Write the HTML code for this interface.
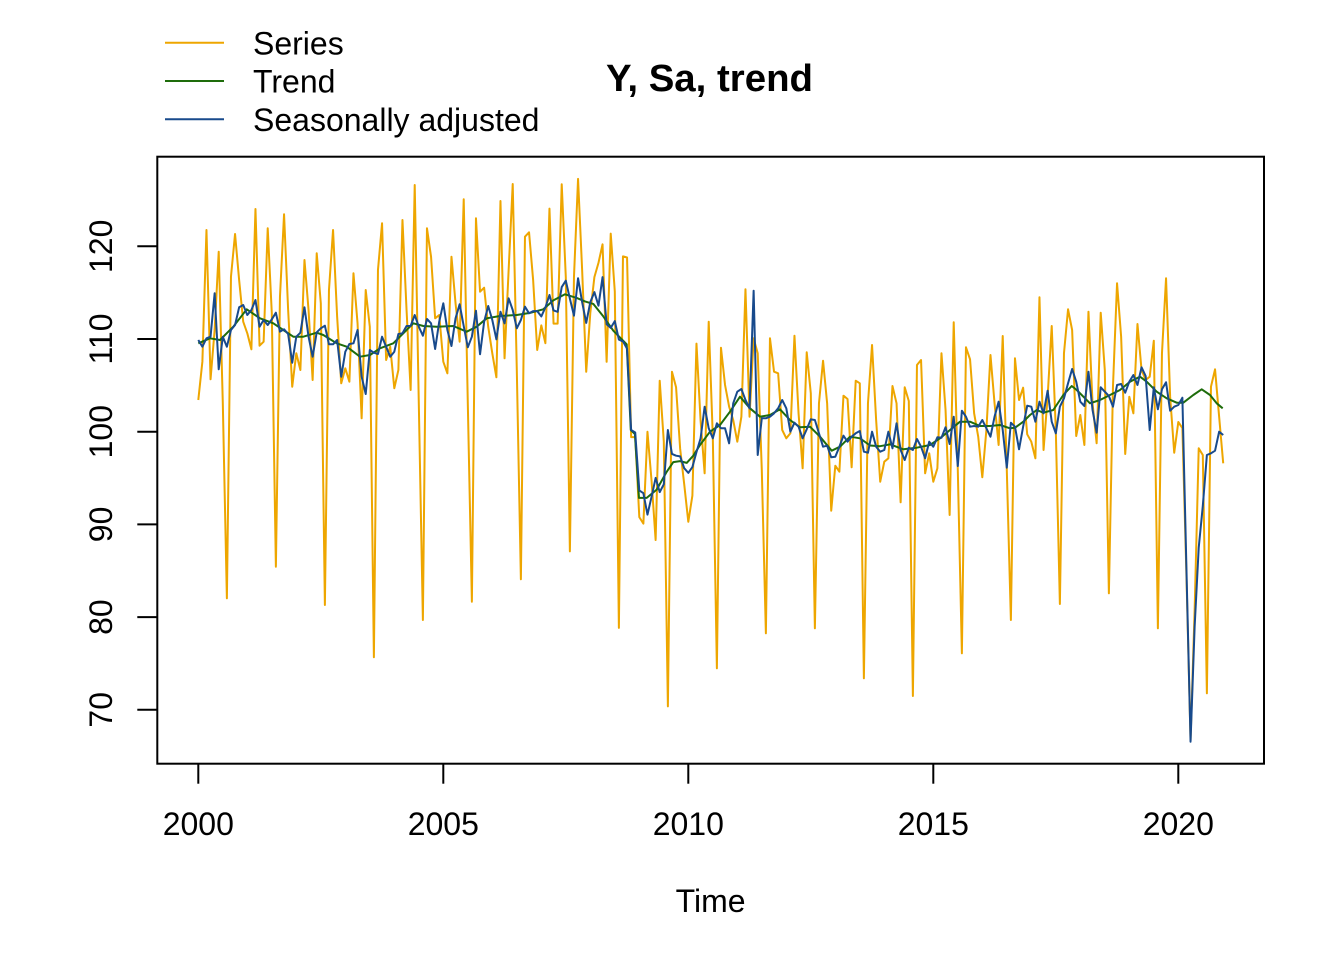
<!DOCTYPE html>
<html>
<head>
<meta charset="utf-8">
<style>
  html, body { margin: 0; padding: 0; background: #ffffff; }
  svg { display: block; }
  text { font-family: "Liberation Sans", Arial, sans-serif; fill: #000; }
</style>
</head>
<body>
<svg width="1344" height="960" viewBox="0 0 1344 960" xmlns="http://www.w3.org/2000/svg">
  <rect x="0" y="0" width="1344" height="960" fill="#ffffff"/>

  <!-- Series (orange) -->
  <g transform="translate(198.3,0) scale(4.08333,1)">
    <polyline fill="none" stroke="#EEA600" stroke-width="2" stroke-linejoin="round" vector-effect="non-scaling-stroke" points="
0,400 1,361.7 2,230 3,379.3 4,330 5,251.7 6,403 7,598.3 8,276.7 9,234 10,280 11,321.7
12,333.3 13,349.3 14,209 15,345.7 16,341.7 17,228.3 18,313.3 19,566.7 20,296.7 21,214.3 22,310 23,386.7
24,353.3 25,370 26,260 27,310 28,380 29,253.3 30,303.3 31,605 32,290 33,230 34,316.7 35,383.3
36,368.3 37,381.7 38,273.3 39,323.3 40,418.3 41,290 42,326.7 43,657.3 44,270 45,223.3 46,360 47,346.7
48,388.3 49,370 50,220 51,310 52,390 53,185 54,403.3 55,620 56,228.3 57,256.7 58,318.3 59,315
60,361.7 61,373.3 62,256.7 63,303.3 64,341.7 65,199.3 66,403.3 67,601.7 68,218.3 69,291.7 70,287.7 71,326.7
72,353.3 73,377.3 74,201 75,358.3 76,270 77,184 78,370 79,579.3 80,236.7 81,232.3 82,280 83,350
84,325.4 85,343.2 86,208.6 87,323.6 88,323.6 89,184.3 90,277.1 91,551.4 92,277.1 93,178.9 94,270 95,371.8
96,312.9 97,277.1 98,262.9 99,244.3 100,361.8 101,233.6 102,291.4 103,627.9 104,256.4 105,257.5 106,437.1 107,437.1
108,517.1 109,523.6 110,431.8 111,480.7 112,540 113,380.7 114,441.4 115,706.4 116,371.8 117,387.1 118,448.6 119,484.3
120,521.8 121,495.7 122,343.6 123,420 124,473.3 125,321.7 126,436.7 127,668.3 128,347.7 129,385 130,406.7 131,420
132,441.7 133,416.7 134,289.3 135,416.7 136,338.3 137,353.3 138,470 139,633.3 140,338.3 141,371.7 142,373.3 143,430
144,438.3 145,433.3 146,335.7 147,413.3 148,468.3 149,352.3 150,393.3 151,628.3 152,403.3 153,360.7 154,403.3 155,510.7
156,465.7 157,471.7 158,395.7 159,399 160,467.3 161,380.7 162,383.3 163,678.3 164,403.3 165,345 166,420 167,481.7
168,461.7 169,458.3 170,386 171,403.3 172,502.3 173,387.3 174,401 175,696 176,365 177,360 178,473.3 179,453.3
180,481.7 181,468.3 182,353.3 183,410 184,515 185,322.3 186,470 187,653.3 188,347.3 189,359.3 190,413.3 191,436.7
192,477.3 193,430 194,355 195,403.3 196,445 197,336 198,470 199,620 200,358.3 201,400 202,387.7 203,434.3
204,441.7 205,458.3 206,297.3 207,450 208,396.7 209,326 210,430 211,604 212,353.3 213,309.3 214,330 215,436
216,415 217,445 218,311.7 219,403.3 220,443.3 221,312.7 222,370 223,593.3 224,386.7 225,283.3 226,336.7 227,454
228,396.7 229,413.3 230,324 231,370 232,380 233,376.7 234,340.7 235,628.3 236,353.3 237,278.3 238,396.7 239,452.7
240,422 241,428 242,576.7 243,740 244,610 245,448.3 246,455 247,693.3 248,386.7 249,369.3 250,416.7 251,463.3"/>
  </g>

  <!-- Trend (green) -->
  <polyline fill="none" stroke="#1E6C0B" stroke-width="2" stroke-linejoin="round" points="
198.3,343.3 210,338.3 220,340 233.3,326.7 246.7,309.3 260,318.3 273.3,323.3 283.3,330 293.3,336.7 303.3,336.7
316.7,332.7 323.3,335 336.7,343.3 346.7,346.7 360,356.7 370,355 380,348.3 393.3,343.3 403.3,333.3 413.3,323.3
423.3,326 436.7,326.7 453.3,326 466.7,331.7 476.7,326.7 486.7,318.3 500,316 516.7,315 530,312.9 543.3,309.3
553.3,300.4 565,294.3 576.7,297.9 585,301.4 593.3,303.9 603.3,316.4 613.3,330.7 626.7,344.3 630.8,430 634.9,434
639,497.9 646.7,497.9 656.7,489.6 666.7,471.8 673.3,462.1 680,461.1 686.7,462.9 693.3,455.7 700,445 710,431.7
720,425 730,411.7 740,396.7 750,408.3 760,416.7 770,415 780,409.3 790,420 800,427.3 810,426.7
820,436.7 831.7,450.7 840,446.7 850,436.7 860,438.3 870,445.5 880,446.2 890,444.3 903.3,449.3 916.7,447.7
930,445 940,438.3 950,430 960,421.7 970,421.7 980,426 990,426 1000,425 1010,428.3 1015,427.7
1023.3,421.7 1030,415 1036.7,410 1043.3,412.7 1053.3,410 1063.3,395 1071.7,386 1076.7,390 1090,403.3 1100,400
1110,395 1120,390 1130,381.7 1140,376.7 1146.7,381.7 1156.7,391.7 1166.7,398.3 1176.7,402.7 1183.3,402.7 1193.3,395
1201.7,389.3 1210,395 1216.7,403.3 1222.7,408.3"/>

  <!-- Seasonally adjusted (blue) -->
  <g transform="translate(198.3,0) scale(4.08333,1)">
    <polyline fill="none" stroke="#184A8C" stroke-width="2" stroke-linejoin="round" vector-effect="non-scaling-stroke" points="
0,340 1,346.7 2,338.3 3,336.7 4,293.3 5,369.3 6,336.7 7,346.7 8,330 9,325 10,307.3 11,305
12,315 13,310 14,300 15,326.7 16,320 17,325 18,319.3 19,312.7 20,331.7 21,329.3 22,334 23,362.7
24,336.7 25,332.7 26,307.3 27,336.7 28,356.7 29,332.3 30,328.3 31,325.7 32,344.3 33,344.3 34,340 35,376.7
36,351.7 37,344 38,343.3 39,330 40,376.7 41,394 42,350 43,352.7 44,354 45,336.7 46,346.7 47,356.7
48,351.7 49,334 50,333.3 51,326 52,326 53,315 54,326.7 55,335.7 56,319 57,323.3 58,349 59,321.7
60,303.3 61,330 62,346 63,318.3 64,304.3 65,326 66,347.3 67,336.7 68,310.7 69,354.3 70,321.7 71,306
72,320 73,339.3 74,311.7 75,323.3 76,298.3 77,310 78,328.3 79,320 80,306.7 81,313.3 82,311.1 83,311.1
84,316.4 85,307.5 86,295 87,310.4 88,311.8 89,287.1 90,280.7 91,298.6 92,315.7 93,278.2 94,302.1 95,322.9
96,302.1 97,292.1 98,305.7 99,277.1 100,324.3 101,327.9 102,321.1 103,339.6 104,341.4 105,348.6 106,430 107,432.5
108,490.4 109,493.2 110,514.6 111,496.8 112,477.9 113,492.1 114,484.3 115,430 116,453.9 117,455.7 118,456.4 119,468.2
120,472.9 121,467.1 122,452.1 123,438.6 124,406.7 125,428.3 126,438.3 127,423.3 128,428.3 129,428.3 130,443.3 131,403.3
132,391.7 133,389 134,400 135,408.3 136,290.7 137,455 138,418.3 139,418.3 140,416.7 141,413.3 142,408.3 143,400
144,408.3 145,431.7 146,422.7 147,426.7 148,438.3 149,429.3 150,419.3 151,420 152,433.3 153,446.7 154,445.7 155,457.3
156,456.7 157,446.7 158,435.7 159,441.7 160,436.7 161,433.3 162,431 163,451.7 164,452.7 165,431.7 166,446.7 167,451.7
168,450 169,431.7 170,448.3 171,423.3 172,450 173,460 174,447.7 175,450 176,439 177,446.7 178,458.3 179,441.7
180,446.7 181,437.3 182,437.7 183,427.3 184,444 185,416.7 186,466 187,410.7 188,416.7 189,426.7 190,426 191,426.7
192,420 193,428.3 194,436.7 195,416.7 196,401.7 197,430 198,467.7 199,422.7 200,426.7 201,449.3 202,426.7 203,405.7
204,406.7 205,421.7 206,401.7 207,413.3 208,390.7 209,421.7 210,433.3 211,406.7 212,398.3 213,383.3 214,369 215,381.7
216,401.7 217,406 218,371.7 219,410 220,432.7 221,387.3 222,391.7 223,396 224,406.7 225,385 226,384 227,392.7
228,381.7 229,375 230,385 231,367.3 232,376 233,430 234,387.3 235,409.3 236,389.3 237,382.3 238,410.7 239,406.7
240,405 241,397.7 242,570 243,741.7 244,626.7 245,547.7 246,506 247,455 248,453.3 249,450.7 250,431.7 251,435"/>
  </g>

  <!-- Plot box -->
  <rect x="157.3" y="156.7" width="1106.7" height="607" fill="none" stroke="#000" stroke-width="2"/>

  <!-- X axis ticks -->
  <g stroke="#000" stroke-width="2">
    <line x1="198.3" y1="763.7" x2="198.3" y2="783.7"/>
    <line x1="443.3" y1="763.7" x2="443.3" y2="783.7"/>
    <line x1="688.3" y1="763.7" x2="688.3" y2="783.7"/>
    <line x1="933.3" y1="763.7" x2="933.3" y2="783.7"/>
    <line x1="1178.3" y1="763.7" x2="1178.3" y2="783.7"/>
  </g>
  <g font-size="32" text-anchor="middle">
    <text x="198.3" y="835">2000</text>
    <text x="443.3" y="835">2005</text>
    <text x="688.3" y="835">2010</text>
    <text x="933.3" y="835">2015</text>
    <text x="1178.3" y="835">2020</text>
  </g>

  <!-- Y axis ticks -->
  <g stroke="#000" stroke-width="2">
    <line x1="137.3" y1="709.8" x2="157.3" y2="709.8"/>
    <line x1="137.3" y1="617.1" x2="157.3" y2="617.1"/>
    <line x1="137.3" y1="524.4" x2="157.3" y2="524.4"/>
    <line x1="137.3" y1="431.7" x2="157.3" y2="431.7"/>
    <line x1="137.3" y1="339.0" x2="157.3" y2="339.0"/>
    <line x1="137.3" y1="246.3" x2="157.3" y2="246.3"/>
  </g>
  <g font-size="32" text-anchor="middle">
    <text transform="translate(112,709.8) rotate(-90)">70</text>
    <text transform="translate(112,617.1) rotate(-90)">80</text>
    <text transform="translate(112,524.4) rotate(-90)">90</text>
    <text transform="translate(112,431.7) rotate(-90)">100</text>
    <text transform="translate(112,339.0) rotate(-90)">110</text>
    <text transform="translate(112,246.3) rotate(-90)">120</text>
  </g>

  <!-- Axis title -->
  <text x="710.6" y="912" font-size="32" text-anchor="middle">Time</text>

  <!-- Main title -->
  <text x="709.5" y="91" font-size="38.4" font-weight="bold" text-anchor="middle">Y, Sa, trend</text>

  <!-- Legend -->
  <line x1="165" y1="42.8" x2="224" y2="42.8" stroke="#EEA600" stroke-width="2"/>
  <line x1="165" y1="81" x2="224" y2="81" stroke="#1E6C0B" stroke-width="2"/>
  <line x1="165" y1="119.2" x2="224" y2="119.2" stroke="#184A8C" stroke-width="2"/>
  <g font-size="32">
    <text x="253" y="54.5">Series</text>
    <text x="253" y="92.7">Trend</text>
    <text x="253" y="130.9">Seasonally adjusted</text>
  </g>
</svg>
</body>
</html>
